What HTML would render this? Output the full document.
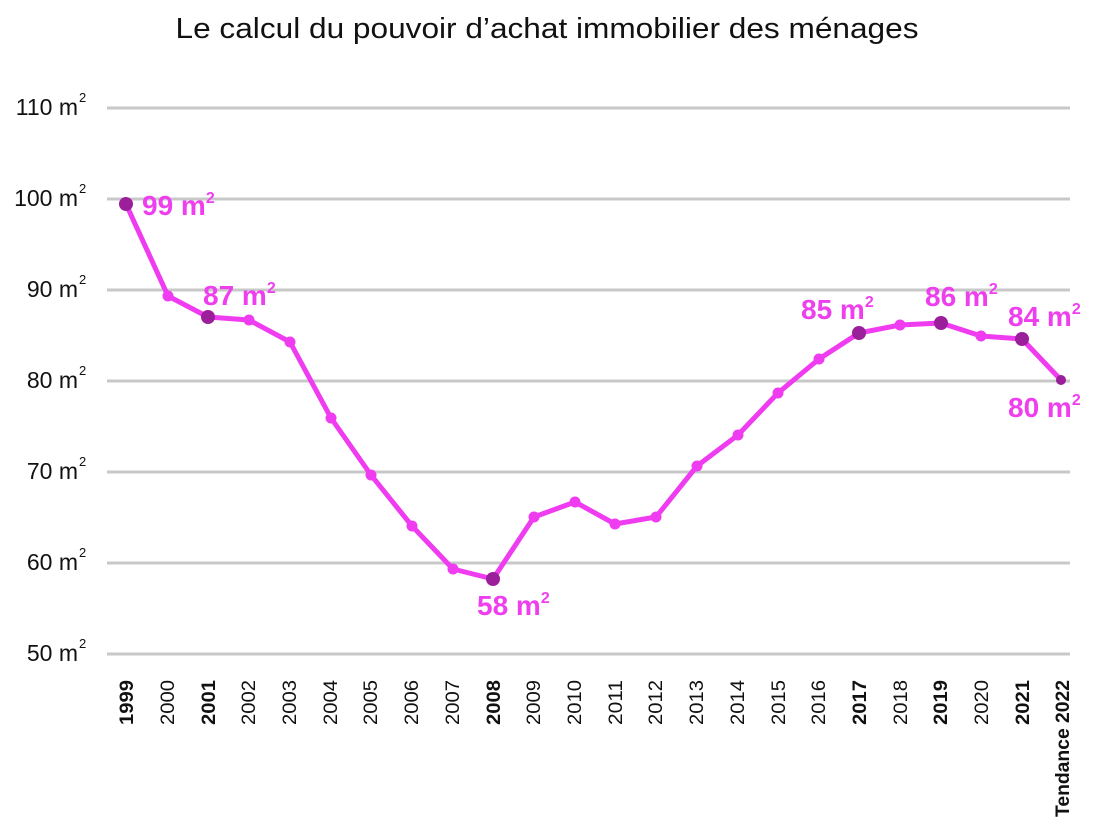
<!DOCTYPE html>
<html><head><meta charset="utf-8"><style>html,body{margin:0;padding:0;background:#fff}svg{display:block}</style></head>
<body>
<svg width="1100" height="829" viewBox="0 0 1100 829" xmlns="http://www.w3.org/2000/svg" font-family="'Liberation Sans', sans-serif">
<text x="547" y="38" font-size="29" text-anchor="middle" textLength="743" lengthAdjust="spacingAndGlyphs" fill="#111">Le calcul du pouvoir d’achat immobilier des ménages</text>
<g stroke="#c8c8c8" stroke-width="3">
<line x1="107" x2="1070" y1="108" y2="108"/><line x1="107" x2="1070" y1="199" y2="199"/><line x1="107" x2="1070" y1="290" y2="290"/><line x1="107" x2="1070" y1="381" y2="381"/><line x1="107" x2="1070" y1="472" y2="472"/><line x1="107" x2="1070" y1="563" y2="563"/><line x1="107" x2="1070" y1="654" y2="654"/>
</g>
<g font-size="23" fill="#111" text-anchor="end">
<text x="78" y="115">110 m</text><text x="78" y="206">100 m</text><text x="78" y="297">90 m</text><text x="78" y="388">80 m</text><text x="78" y="479">70 m</text><text x="78" y="570">60 m</text><text x="78" y="661">50 m</text>
</g>
<g font-size="13" fill="#111">
<text x="79" y="102">2</text><text x="79" y="193">2</text><text x="79" y="284">2</text><text x="79" y="375">2</text><text x="79" y="466">2</text><text x="79" y="557">2</text><text x="79" y="648">2</text>
</g>
<g font-size="19" fill="#111" text-anchor="end">
<text transform="translate(133,680) rotate(-90)" font-weight="bold" textLength="45" lengthAdjust="spacingAndGlyphs">1999</text>
<text transform="translate(174,680) rotate(-90)" textLength="45" lengthAdjust="spacingAndGlyphs">2000</text>
<text transform="translate(215,680) rotate(-90)" font-weight="bold" textLength="45" lengthAdjust="spacingAndGlyphs">2001</text>
<text transform="translate(255,680) rotate(-90)" textLength="45" lengthAdjust="spacingAndGlyphs">2002</text>
<text transform="translate(296,680) rotate(-90)" textLength="45" lengthAdjust="spacingAndGlyphs">2003</text>
<text transform="translate(337,680) rotate(-90)" textLength="45" lengthAdjust="spacingAndGlyphs">2004</text>
<text transform="translate(377,680) rotate(-90)" textLength="45" lengthAdjust="spacingAndGlyphs">2005</text>
<text transform="translate(418,680) rotate(-90)" textLength="45" lengthAdjust="spacingAndGlyphs">2006</text>
<text transform="translate(459,680) rotate(-90)" textLength="45" lengthAdjust="spacingAndGlyphs">2007</text>
<text transform="translate(500,680) rotate(-90)" font-weight="bold" textLength="45" lengthAdjust="spacingAndGlyphs">2008</text>
<text transform="translate(540,680) rotate(-90)" textLength="45" lengthAdjust="spacingAndGlyphs">2009</text>
<text transform="translate(581,680) rotate(-90)" textLength="45" lengthAdjust="spacingAndGlyphs">2010</text>
<text transform="translate(622,680) rotate(-90)" textLength="45" lengthAdjust="spacingAndGlyphs">2011</text>
<text transform="translate(662,680) rotate(-90)" textLength="45" lengthAdjust="spacingAndGlyphs">2012</text>
<text transform="translate(703,680) rotate(-90)" textLength="45" lengthAdjust="spacingAndGlyphs">2013</text>
<text transform="translate(744,680) rotate(-90)" textLength="45" lengthAdjust="spacingAndGlyphs">2014</text>
<text transform="translate(785,680) rotate(-90)" textLength="45" lengthAdjust="spacingAndGlyphs">2015</text>
<text transform="translate(825,680) rotate(-90)" textLength="45" lengthAdjust="spacingAndGlyphs">2016</text>
<text transform="translate(866,680) rotate(-90)" font-weight="bold" textLength="45" lengthAdjust="spacingAndGlyphs">2017</text>
<text transform="translate(907,680) rotate(-90)" textLength="45" lengthAdjust="spacingAndGlyphs">2018</text>
<text transform="translate(947,680) rotate(-90)" font-weight="bold" textLength="45" lengthAdjust="spacingAndGlyphs">2019</text>
<text transform="translate(988,680) rotate(-90)" textLength="45" lengthAdjust="spacingAndGlyphs">2020</text>
<text transform="translate(1029,680) rotate(-90)" font-weight="bold" textLength="45" lengthAdjust="spacingAndGlyphs">2021</text>
<text transform="translate(1069,680) rotate(-90)" font-weight="bold" textLength="137" lengthAdjust="spacingAndGlyphs">Tendance 2022</text>
</g>
<polyline fill="none" stroke="#f03cf0" stroke-width="5" stroke-linejoin="round" points="126,204 168,296 208,317 249,320 290,342 331,418 371,475 412,526 453,569 493,579 534,517 575,502 615,524 656,517 697,466 738,435 778,393 819,359 859,333 900,325 941,323 981,336 1022,339 1061,380"/>
<g fill="#f03cf0">
<circle cx="168" cy="296" r="5.5"/><circle cx="249" cy="320" r="5.5"/><circle cx="290" cy="342" r="5.5"/><circle cx="331" cy="418" r="5.5"/><circle cx="371" cy="475" r="5.5"/><circle cx="412" cy="526" r="5.5"/><circle cx="453" cy="569" r="5.5"/><circle cx="534" cy="517" r="5.5"/><circle cx="575" cy="502" r="5.5"/><circle cx="615" cy="524" r="5.5"/><circle cx="656" cy="517" r="5.5"/><circle cx="697" cy="466" r="5.5"/><circle cx="738" cy="435" r="5.5"/><circle cx="778" cy="393" r="5.5"/><circle cx="819" cy="359" r="5.5"/><circle cx="900" cy="325" r="5.5"/><circle cx="981" cy="336" r="5.5"/>
</g>
<g fill="#9b1f9b">
<circle cx="126" cy="204" r="7"/><circle cx="208" cy="317" r="7"/><circle cx="493" cy="579" r="7"/><circle cx="859" cy="333" r="7"/><circle cx="941" cy="323" r="7"/><circle cx="1022" cy="339" r="7"/><circle cx="1061" cy="380" r="5"/>
</g>
<g font-size="28" font-weight="bold" fill="#ee3eee">
<text x="142" y="215">99 m<tspan font-size="16" dy="-12">2</tspan></text>
<text x="203" y="305">87 m<tspan font-size="16" dy="-12">2</tspan></text>
<text x="477" y="615">58 m<tspan font-size="16" dy="-12">2</tspan></text>
<text x="801" y="319">85 m<tspan font-size="16" dy="-12">2</tspan></text>
<text x="925" y="306">86 m<tspan font-size="16" dy="-12">2</tspan></text>
<text x="1008" y="326">84 m<tspan font-size="16" dy="-12">2</tspan></text>
<text x="1008" y="417">80 m<tspan font-size="16" dy="-12">2</tspan></text>
</g>
</svg>
</body></html>
